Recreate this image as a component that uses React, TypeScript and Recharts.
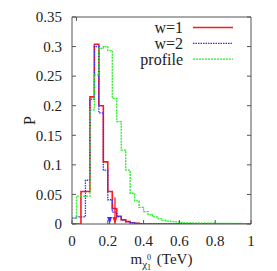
import { LineChart, Line, XAxis, YAxis, ReferenceLine, ReferenceDot } from "recharts";

// histogram bins (left edges, TeV), last edge closes the steps
const binStarts = [
  0, 0.025, 0.05, 0.075, 0.1, 0.125, 0.15, 0.175, 0.2, 0.225,
  0.25, 0.275, 0.3, 0.325, 0.35, 0.375, 0.4, 0.425, 0.45, 0.475,
  0.5, 0.525, 0.55, 0.575, 0.6, 0.625, 0.65, 0.675, 0.7, 0.725,
  0.75, 0.775, 0.8, 0.825, 0.85, 0.875, 0.9, 0.925, 0.95, 0.975,
];
const binEnd = 1;

const w1Values = [
  0, 0, 0.055, 0.055, 0.215, 0.304, 0.2, 0.105, 0.055, 0.026,
  0.013, 0.007, 0.004, 0.002, 0.001, 0.0005, 0, 0, 0, 0,
  0, 0, 0, 0, 0, 0, 0, 0, 0, 0,
  0, 0, 0, 0, 0, 0, 0, 0, 0, 0,
];
const w2Values = [
  0.01, 0.012, 0.012, 0.074, 0.211, 0.3, 0.188, 0.091, 0.041, 0.02,
  0.012, 0.007, 0.004, 0.002, 0.001, 0, 0, 0, 0, 0,
  0, 0, 0, 0, 0, 0, 0, 0, 0, 0,
  0, 0, 0, 0, 0, 0, 0, 0, 0, 0,
];
const profileValues = [
  0.01, 0.047, 0.047, 0.047, 0.193, 0.252, 0.297, 0.3, 0.293, 0.2125,
  0.173, 0.125, 0.091, 0.052, 0.039, 0.028, 0.021, 0.016, 0.012, 0.009,
  0.006, 0.005, 0.004, 0.0035, 0.0025, 0.002, 0.002, 0.0015, 0.0015, 0.0015,
  0.0015, 0.0015, 0.001, 0.001, 0.001, 0.001, 0.001, 0.001, 0.0005, 0.0005,
];

const seriesNames = ["w=1", "w=2", "profile"];

// arrows marking the limits near the axis
const w1Limit = 0.24;
const w1ArrowTop = 0.045;
const w2Limit = 0.21;
const w2ArrowTop = 0.012;

const xTicks = [0, 0.2, 0.4, 0.6, 0.8, 1];
const xTickLabels = ["0", "0.2", "0.4", "0.6", "0.8", "1"];
const yTicks = [0, 0.05, 0.1, 0.15, 0.2, 0.25, 0.3, 0.35];
const yTickLabels = ["0", "0.05", "0.1", "0.15", "0.2", "0.25", "0.3", "0.35"];

const font = "'Liberation Serif', 'Times New Roman', serif";
const frame = "#555";
const ink = "#222";
const colors = { w1: "#ff1a1a", w2: "#3030ff", profile: "#22ee22" };
const w2Dash = "1.5 1";
const profileDash = "2 1";

const rows = [
  ...binStarts.map((x, i) => ({ x, w1: w1Values[i], w2: w2Values[i], profile: profileValues[i] })),
  {
    x: binEnd,
    w1: w1Values[w1Values.length - 1],
    w2: w2Values[w2Values.length - 1],
    profile: profileValues[profileValues.length - 1],
  },
];

const emptyTick = () => <g />;

const arrowHead = (color: string) => (p: any) => {
  const { cx, cy } = p;
  return <path d={`M${cx - 2.5},${cy - 7} L${cx + 2.5},${cy - 7} L${cx},${cy} Z`} fill={color} />;
};

const XLabel = ({ viewBox }: any) => {
  const cx = viewBox.x + viewBox.width / 2;
  const y = viewBox.y + 40;
  return (
    <text x={cx} y={y} textAnchor="middle" fontFamily={font} fontSize={15} fill={ink}>
      m
      <tspan fontSize={11} dy={4}>χ</tspan>
      <tspan fontSize={8} dy={-8}>0</tspan>
      <tspan fontSize={8} dx={-4} dy={10}>1</tspan>
      <tspan fontSize={15} dx={2} dy={-6}> (TeV)</tspan>
    </text>
  );
};

const YLabel = ({ viewBox }: any) => {
  const cx = viewBox.x + 29;
  const cy = viewBox.y + viewBox.height / 2;
  return (
    <text
      x={cx}
      y={cy}
      textAnchor="middle"
      dominantBaseline="central"
      transform={`rotate(-90, ${cx}, ${cy})`}
      fontFamily={font}
      fontSize={16}
      fill={ink}
    >
      P
    </text>
  );
};

function LegendBox() {
  const items = [
    { name: seriesNames[0], color: colors.w1, dash: undefined, width: 1.6 },
    { name: seriesNames[1], color: colors.w2, dash: w2Dash, width: 1.3 },
    { name: seriesNames[2], color: colors.profile, dash: profileDash, width: 1.3 },
  ];
  return (
    <svg width={277} height={271} style={{ position: "absolute", left: 0, top: 0, pointerEvents: "none" }}>
      {items.map((it, i) => {
        const ly = 27.5 + i * 15.8;
        return (
          <g key={it.name}>
            <text x={183} y={ly + 5.5} textAnchor="end" fontFamily={font} fontSize={16} fill={ink}>
              {it.name}
            </text>
            <line x1={193} x2={233} y1={ly} y2={ly} stroke={it.color} strokeWidth={it.width} strokeDasharray={it.dash} />
          </g>
        );
      })}
    </svg>
  );
}

export default function App() {
  return (
    <div style={{ position: "absolute", left: 0, top: 0, width: 277, height: 271 }}>
      <LineChart width={277} height={271} data={rows} margin={{ top: 17, right: 26, bottom: 17, left: 0 }}>
        <XAxis
          dataKey="x"
          type="number"
          domain={[0, 1]}
          ticks={xTicks}
          allowDataOverflow
          height={30}
          tickSize={-4}
          tickMargin={15}
          stroke={frame}
          tickFormatter={(v: number, i: number) => xTickLabels[i] ?? String(v)}
          tick={{ fill: ink, fontSize: 15, fontFamily: font }}
          label={<XLabel />}
        />
        <XAxis
          xAxisId="top"
          orientation="top"
          type="number"
          domain={[0, 1]}
          ticks={xTicks}
          allowDataOverflow
          mirror
          height={20}
          tickSize={4}
          stroke={frame}
          tick={emptyTick}
        />
        <YAxis
          type="number"
          domain={[0, 0.35]}
          ticks={yTicks}
          allowDataOverflow
          width={72}
          tickSize={-4}
          tickMargin={14}
          stroke={frame}
          tickFormatter={(v: number, i: number) => yTickLabels[i] ?? String(v)}
          tick={{ fill: ink, fontSize: 15, fontFamily: font }}
          label={<YLabel />}
        />
        <YAxis
          yAxisId="right"
          orientation="right"
          type="number"
          domain={[0, 0.35]}
          ticks={yTicks}
          allowDataOverflow
          mirror
          width={20}
          tickSize={4}
          stroke={frame}
          tick={emptyTick}
        />
        <Line
          type="stepAfter"
          dataKey="w1"
          name={seriesNames[0]}
          stroke={colors.w1}
          strokeWidth={1.6}
          dot={false}
          isAnimationActive={false}
        />
        <Line
          type="stepAfter"
          dataKey="w2"
          name={seriesNames[1]}
          stroke={colors.w2}
          strokeWidth={1.3}
          strokeDasharray={w2Dash}
          dot={false}
          isAnimationActive={false}
        />
        <Line
          type="stepAfter"
          dataKey="profile"
          name={seriesNames[2]}
          stroke={colors.profile}
          strokeWidth={1.3}
          strokeDasharray={profileDash}
          dot={false}
          isAnimationActive={false}
        />
        <ReferenceLine
          segment={[{ x: w1Limit, y: w1ArrowTop }, { x: w1Limit, y: 0 }]}
          stroke={colors.w1}
          strokeWidth={1.3}
        />
        <ReferenceDot x={w1Limit} y={0} shape={arrowHead(colors.w1)} ifOverflow="visible" />
        <ReferenceLine
          segment={[{ x: w2Limit, y: w2ArrowTop }, { x: w2Limit, y: 0 }]}
          stroke={colors.w2}
          strokeWidth={1.2}
          strokeDasharray="1 1"
        />
        <ReferenceDot x={w2Limit} y={0} shape={arrowHead(colors.w2)} ifOverflow="visible" />
      </LineChart>
      <LegendBox />
    </div>
  );
}
